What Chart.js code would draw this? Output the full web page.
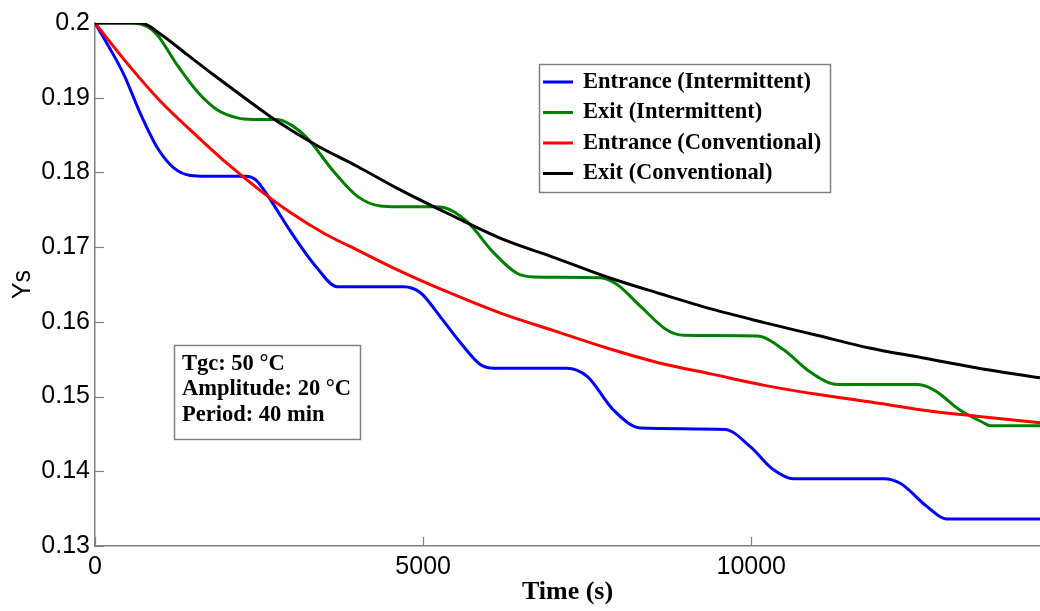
<!DOCTYPE html>
<html>
<head>
<meta charset="utf-8">
<title>Ys vs Time</title>
<script src="https://cdn.jsdelivr.net/npm/chart.js@4.4.1/dist/chart.umd.min.js"></script>
<style>
  html, body { margin: 0; padding: 0; background: #fff; }
  #chart { display: block; }
</style>
</head>
<body>
<canvas id="chart" width="1040" height="611"></canvas>
<script>
// Time (s) / Ys pairs, one pair of arrays per curve
const entranceIntT = [0, 200, 440, 700, 950, 1200, 1450, 1700, 2300, 2450, 2624, 2980, 3385, 3690, 3900, 4700, 4960, 5260, 5570, 5870, 6080, 7190, 7500, 7900, 8310, 9600, 9985, 10340, 10645, 12016, 12270, 12675, 12980, 14400];
const entranceIntY = [0.2, 0.197, 0.1931, 0.1877, 0.1833, 0.1806, 0.1796, 0.1795, 0.1795, 0.179, 0.177, 0.1721, 0.1672, 0.1647, 0.1647, 0.1647, 0.1639, 0.1607, 0.1572, 0.1543, 0.1538, 0.1538, 0.1527, 0.1482, 0.1458, 0.1456, 0.1433, 0.1402, 0.139, 0.139, 0.1384, 0.1353, 0.1336, 0.1336];

const exitIntT = [0, 590, 800, 950, 1250, 1560, 1860, 2170, 2400, 2780, 3000, 3233, 3640, 4000, 4350, 4600, 5160, 5314, 5670, 6080, 6430, 6690, 7700, 7955, 8310, 8716, 8970, 10090, 10490, 10850, 11200, 11360, 12520, 12780, 13180, 13540, 13640, 14400];
const exitIntY = [0.2, 0.2, 0.1995, 0.1984, 0.1944, 0.1908, 0.1884, 0.1873, 0.1871, 0.1871, 0.1863, 0.1846, 0.1801, 0.1768, 0.1755, 0.1754, 0.1754, 0.1753, 0.1734, 0.1692, 0.1665, 0.166, 0.1659, 0.165, 0.1621, 0.1589, 0.1582, 0.1581, 0.1563, 0.1536, 0.1518, 0.1516, 0.1516, 0.1509, 0.1482, 0.1465, 0.1461, 0.1461];

const entranceConvT = [0, 500, 1000, 1500, 2000, 2500, 3000, 3500, 4000, 4600, 5400, 6200, 7000, 7800, 8600, 9400, 10200, 11000, 11800, 12600, 13400, 14400];
const entranceConvY = [0.2, 0.1945, 0.1895, 0.1853, 0.1813, 0.1777, 0.1745, 0.1718, 0.1696, 0.167, 0.1639, 0.1611, 0.1588, 0.1565, 0.1545, 0.153, 0.1515, 0.1503, 0.1493, 0.1482, 0.1474, 0.1465];

const exitConvT = [0, 700, 1000, 1400, 1800, 2200, 2800, 3400, 4000, 4600, 5400, 6200, 7000, 7800, 8600, 9400, 10200, 11000, 11800, 12600, 13400, 14400];
const exitConvY = [0.2, 0.2, 0.1985, 0.1958, 0.1931, 0.1905, 0.1867, 0.1835, 0.1808, 0.1779, 0.1744, 0.1711, 0.1686, 0.166, 0.1638, 0.1617, 0.1599, 0.1582, 0.1565, 0.1552, 0.1539, 0.1525];

const seriesNames = ["Entrance (Intermittent)", "Exit (Intermittent)", "Entrance (Conventional)", "Exit (Conventional)"];
const seriesColors = ["#0000ff", "#008000", "#ff0000", "#000000"];

const xTicks = [0, 5000, 10000];
const yTicks = [0.13, 0.14, 0.15, 0.16, 0.17, 0.18, 0.19, 0.2];
const noteLines = ["Tgc: 50 °C", "Amplitude: 20 °C", "Period: 40 min"];

const toPoints = (ts, ys) => ts.map((t, i) => ({ x: t, y: ys[i] }));
const curves = [
    toPoints(entranceIntT, entranceIntY),
    toPoints(exitIntT, exitIntY),
    toPoints(entranceConvT, entranceConvY),
    toPoints(exitConvT, exitConvY)
];

const axisGray = "#808080";
const serifBold = "bold 22.5px 'Liberation Serif', 'Times New Roman', serif";

// short tick marks pointing into the plot, like the original figure
const innerTicks = {
    id: "innerTicks",
    beforeDatasetsDraw(chart) {
        const { ctx, chartArea, scales } = chart;
        ctx.save();
        ctx.strokeStyle = axisGray;
        ctx.lineWidth = 1.2;
        yTicks.forEach((v) => {
            const y = Math.round(scales.y.getPixelForValue(v)) + 0.5;
            ctx.beginPath();
            ctx.moveTo(chartArea.left, y);
            ctx.lineTo(chartArea.left + 9, y);
            ctx.stroke();
        });
        xTicks.forEach((v) => {
            const x = Math.round(scales.x.getPixelForValue(v)) + 0.5;
            ctx.beginPath();
            ctx.moveTo(x, chartArea.bottom);
            ctx.lineTo(x, chartArea.bottom - 9);
            ctx.stroke();
        });
        ctx.restore();
    }
};

function framedBox(ctx, x, y, w, h) {
    ctx.fillStyle = "#ffffff";
    ctx.fillRect(x, y, w, h);
    ctx.strokeStyle = axisGray;
    ctx.lineWidth = 1.5;
    ctx.strokeRect(x, y, w, h);
}

// legend box and the parameter note inside the plot
const boxes = {
    id: "boxes",
    afterDatasetsDraw(chart) {
        const ctx = chart.ctx;
        ctx.save();
        framedBox(ctx, 539.5, 64.5, 291, 128);
        ctx.font = serifBold;
        ctx.textBaseline = "middle";
        ctx.textAlign = "left";
        seriesNames.forEach((name, i) => {
            const y = 82 + i * 30.5;
            ctx.strokeStyle = seriesColors[i];
            ctx.lineWidth = 3;
            ctx.beginPath();
            ctx.moveTo(543, y);
            ctx.lineTo(573, y);
            ctx.stroke();
            ctx.fillStyle = "#000";
            ctx.fillText(name, 583, y);
        });

        framedBox(ctx, 174.5, 345.5, 186, 94);
        ctx.fillStyle = "#000";
        noteLines.forEach((line, i) => {
            ctx.fillText(line, 182, 364 + i * 25.5);
        });
        ctx.restore();
    }
};

const ctx = document.getElementById("chart").getContext("2d");
const chart = new Chart(ctx, {
    type: "line",
    data: {
        datasets: curves.map((pts, i) => ({
            label: seriesNames[i],
            data: pts,
            borderColor: seriesColors[i],
            backgroundColor: seriesColors[i],
            borderWidth: 3,
            pointRadius: 0,
            fill: false,
            cubicInterpolationMode: "monotone",
            order: 4 - i
        }))
    },
    options: {
        responsive: false,
        animation: false,
        devicePixelRatio: 1,
        layout: { padding: { top: 23, right: 0, bottom: 0, left: 0 } },
        plugins: {
            legend: { display: false },
            tooltip: { enabled: false }
        },
        scales: {
            x: {
                type: "linear",
                min: 0,
                max: 14400,
                afterFit: (scale) => { scale.height = 65; },
                afterBuildTicks: (scale) => { scale.ticks = xTicks.map((v) => ({ value: v })); },
                grid: { drawOnChartArea: false, drawTicks: false },
                border: { color: axisGray, width: 1.5 },
                ticks: {
                    color: "#000",
                    padding: 6,
                    maxRotation: 0,
                    font: { family: "'Liberation Sans', Arial, sans-serif", size: 25 },
                    callback: (v) => String(v)
                },
                title: {
                    display: true,
                    text: "Time (s)",
                    color: "#000",
                    padding: { top: 0, bottom: 3 },
                    font: { family: "'Liberation Serif', 'Times New Roman', serif", size: 26, weight: "bold" }
                }
            },
            y: {
                type: "linear",
                min: 0.13,
                max: 0.2,
                afterFit: (scale) => { scale.width = 95; },
                afterBuildTicks: (scale) => { scale.ticks = yTicks.map((v) => ({ value: v })); },
                grid: { drawOnChartArea: false, drawTicks: false },
                border: { color: axisGray, width: 1.5 },
                ticks: {
                    color: "#000",
                    padding: 5,
                    font: { family: "'Liberation Sans', Arial, sans-serif", size: 25 },
                    callback: (v) => String(Number(v.toFixed(2)))
                },
                title: {
                    display: true,
                    text: "Ys",
                    color: "#000",
                    padding: { top: 8, bottom: 0 },
                    font: { family: "'Liberation Sans', Arial, sans-serif", size: 25 }
                }
            }
        }
    },
    plugins: [innerTicks, boxes]
});
</script>
</body>
</html>
